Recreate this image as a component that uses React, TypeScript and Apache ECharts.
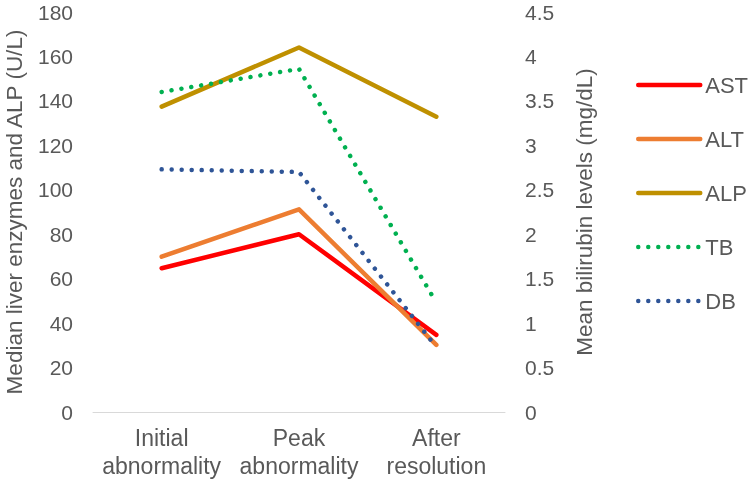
import React, { useEffect, useRef } from "react";
import * as echarts from "echarts";

const categories = ["Initial\nabnormality", "Peak\nabnormality", "After\nresolution"];
const astValues = [64.7, 80, 34.7];
const altValues = [69.9, 91.2, 30.2];
const alpValues = [137.4, 164, 132.9];
const tbValues = [3.6, 3.86, 1.23];
const dbValues = [2.73, 2.7, 0.73];

const TEXT = "#595959";
const FONT = "'Liberation Sans', Arial, sans-serif";

export default function App() {
  const ref = useRef<HTMLDivElement>(null);
  useEffect(() => {
    if (!ref.current) return;
    const chart = echarts.init(ref.current, undefined, { renderer: "svg" });
    const solid = (name: string, data: number[], color: string) => ({
      name,
      type: "line",
      data,
      yAxisIndex: 0,
      symbol: "none",
      lineStyle: { color, width: 4.5, cap: "round", join: "round" },
      itemStyle: { color },
    });
    const dotted = (name: string, data: number[], color: string) => ({
      name,
      type: "line",
      data,
      yAxisIndex: 1,
      symbol: "none",
      lineStyle: { color, width: 4.5, type: [0.01, 10], cap: "round", join: "round" },
      itemStyle: { color },
    });
    chart.setOption({
      animation: false,
      textStyle: { fontFamily: FONT },
      grid: { left: 93, right: 245, top: 12, bottom: 71, containLabel: false, outerBoundsMode: "none" },
      legend: {
        orient: "vertical",
        left: 631,
        top: 69,
        itemWidth: 62,
        itemHeight: 20,
        itemGap: 32,
        itemStyle: { opacity: 0 },
        lineStyle: { width: 4.5, cap: "round" },
        textStyle: { color: TEXT, fontSize: 22, fontFamily: FONT },
        data: ["AST", "ALT", "ALP", "TB", "DB"],
      },
      xAxis: {
        type: "category",
        data: categories,
        boundaryGap: true,
        axisLine: { lineStyle: { color: "#D9D9D9", width: 1 } },
        axisTick: { show: false },
        axisLabel: { color: TEXT, fontSize: 23, lineHeight: 28, margin: 12, interval: 0, fontFamily: FONT },
      },
      yAxis: [
        {
          type: "value",
          min: 0,
          max: 180,
          interval: 20,
          name: "Median liver enzymes and ALP (U/L)",
          nameLocation: "middle",
          nameGap: 67,
          nameTextStyle: { color: TEXT, fontSize: 22.5, fontFamily: FONT },
          axisLine: { show: false },
          axisTick: { show: false },
          splitLine: { show: false },
          axisLabel: { color: TEXT, fontSize: 21, margin: 20, fontFamily: FONT },
        },
        {
          type: "value",
          min: 0,
          max: 4.5,
          interval: 0.5,
          name: "Mean bilirubin levels (mg/dL)",
          nameLocation: "middle",
          nameGap: 68,
          nameTextStyle: { color: TEXT, fontSize: 22.5, fontFamily: FONT },
          axisLine: { show: false },
          axisTick: { show: false },
          splitLine: { show: false },
          axisLabel: { color: TEXT, fontSize: 21, margin: 20, fontFamily: FONT },
        },
      ],
      series: [
        solid("AST", astValues, "#FF0000"),
        solid("ALT", altValues, "#ED7D31"),
        solid("ALP", alpValues, "#BF9000"),
        dotted("TB", tbValues, "#00B050"),
        dotted("DB", dbValues, "#2F5597"),
      ],
    });
    return () => chart.dispose();
  }, []);
  return <div ref={ref} style={{ position: "fixed", left: 0, top: 0, width: 750, height: 483 }} />;
}
